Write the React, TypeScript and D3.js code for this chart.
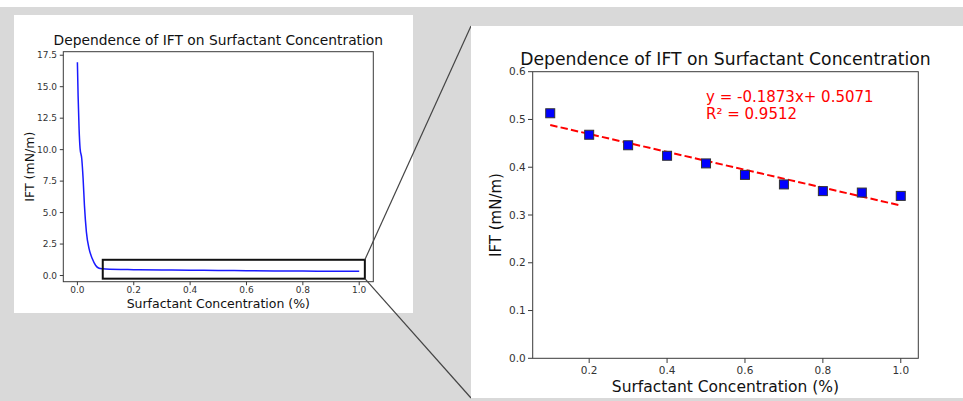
import React from "react";
import * as d3 from "d3";

// ---- Data ----
// Full curve (left panel): concentration (%) vs IFT (mN/m)
const curveX = [0, 0.0025, 0.006, 0.0096, 0.0155, 0.0203, 0.025, 0.032, 0.0416, 0.053, 0.065, 0.077, 0.089, 0.1, 0.2, 0.3, 0.4, 0.5, 0.6, 0.7, 0.8, 0.9, 1.0];
const curveY = [16.95, 14.3, 11.67, 10.08, 9.28, 7.69, 5.57, 3.45, 2.12, 1.33, 0.8, 0.58, 0.53, 0.513, 0.468, 0.446, 0.424, 0.408, 0.384, 0.364, 0.35, 0.347, 0.34];

// Zoomed detail (right panel)
const concentration = [0.1, 0.2, 0.3, 0.4, 0.5, 0.6, 0.7, 0.8, 0.9, 1.0];
const ift = [0.513, 0.468, 0.446, 0.424, 0.408, 0.384, 0.364, 0.35, 0.347, 0.34];
const fitSlope = -0.1873;
const fitIntercept = 0.5071;
const fitR2 = 0.9512;

const leftXTicks = [0, 0.2, 0.4, 0.6, 0.8, 1.0];
const leftYTicks = [0, 2.5, 5, 7.5, 10, 12.5, 15, 17.5];
const rightXTicks = [0.2, 0.4, 0.6, 0.8, 1.0];
const rightYTicks = [0, 0.1, 0.2, 0.3, 0.4, 0.5, 0.6];
const zoomBoxX = [0.09, 1.02];
const zoomBoxY = [-0.25, 1.25];

const title = "Dependence of IFT on Surfactant Concentration";
const xLabel = "Surfactant Concentration (%)";
const yLabel = "IFT (mN/m)";

const FONT = "'DejaVu Sans', sans-serif";
const BG = "#d9d9d9";
const SPINE = "#3a3a3a";

function withMargin(vals: number[]): [number, number] {
  const mn = d3.min(vals)!;
  const mx = d3.max(vals)!;
  const m = (mx - mn) * 0.05;
  return [mn - m, mx + m];
}

export default function App() {
  // Left chart
  const L = { x0: 63.3, x1: 373.3, y0: 51.7, y1: 281.7 };
  const xL = d3.scaleLinear().domain(withMargin(curveX)).range([L.x0, L.x1]);
  const yL = d3.scaleLinear().domain(withMargin(curveY)).range([L.y1, L.y0]);
  const linePath = d3
    .line<number>()
    .x((_, i) => xL(curveX[i]))
    .y((d) => yL(d))
    .curve(d3.curveMonotoneX)(curveY) as string;

  // Right chart
  const R = { x0: 532.7, x1: 918.3, y0: 71.7, y1: 358.3 };
  const xR = d3.scaleLinear().domain(withMargin(concentration)).range([R.x0, R.x1]);
  const yR = d3.scaleLinear().domain([0, 0.6]).range([R.y1, R.y0]);
  const fitX = [d3.min(concentration)!, d3.max(concentration)!];
  const fitPath = d3
    .line<number>()
    .x((d) => xR(d))
    .y((d) => yR(fitSlope * d + fitIntercept))(fitX) as string;

  const fmt1 = d3.format(".1f");
  const bx1 = xL(zoomBoxX[1]);
  const byTop = yL(zoomBoxY[1]);
  const byBot = yL(zoomBoxY[0]);

  const mk = 9;

  return (
    <svg
      width={963}
      height={401}
      style={{ position: "absolute", left: 0, top: 0, fontFamily: FONT }}
    >
      <rect x={0} y={0} width={963} height={401} fill={BG} />
      <rect x={0} y={0} width={963} height={7} fill="#ffffff" />

      {/* Left panel */}
      <rect x={14} y={15} width={399} height={298} fill="#ffffff" />
      <text x={(L.x0 + L.x1) / 2} y={45} textAnchor="middle" fontSize={13.8} fill="#111">
        {title}
      </text>
      <path d={linePath} fill="none" stroke="#1a1aff" strokeWidth={1.5} />
      <rect x={L.x0} y={L.y0} width={L.x1 - L.x0} height={L.y1 - L.y0} fill="none" stroke={SPINE} strokeWidth={1} />
      {leftXTicks.map((t) => (
        <g key={"lx" + t}>
          <line x1={xL(t)} x2={xL(t)} y1={L.y1} y2={L.y1 + 3.5} stroke={SPINE} />
          <text x={xL(t)} y={292.7} textAnchor="middle" fontSize={9} fill="#333">
            {fmt1(t)}
          </text>
        </g>
      ))}
      {leftYTicks.map((t) => (
        <g key={"ly" + t}>
          <line x1={L.x0 - 3.5} x2={L.x0} y1={yL(t)} y2={yL(t)} stroke={SPINE} />
          <text x={57} y={yL(t)} dy="0.35em" textAnchor="end" fontSize={9} fill="#333">
            {fmt1(t)}
          </text>
        </g>
      ))}
      <text x={(L.x0 + L.x1) / 2} y={308} textAnchor="middle" fontSize={12.5} fill="#111">
        {xLabel}
      </text>
      <text
        transform={`translate(34,${(L.y0 + L.y1) / 2}) rotate(-90)`}
        textAnchor="middle"
        fontSize={12.5}
        fill="#111"
      >
        {yLabel}
      </text>
      <rect
        x={xL(zoomBoxX[0])}
        y={byTop}
        width={bx1 - xL(zoomBoxX[0])}
        height={byBot - byTop}
        fill="none"
        stroke="#111"
        strokeWidth={2}
      />

      {/* Connector lines */}
      <line x1={bx1} y1={byTop} x2={471} y2={26} stroke="#444" strokeWidth={1.2} />
      <line x1={bx1} y1={byBot} x2={471} y2={398} stroke="#444" strokeWidth={1.2} />

      {/* Right panel */}
      <rect x={471} y={26} width={492} height={372} fill="#ffffff" />
      <text x={(R.x0 + R.x1) / 2} y={65} textAnchor="middle" fontSize={17.2} fill="#111">
        {title}
      </text>
      <path d={fitPath} fill="none" stroke="#ff0000" strokeWidth={2} strokeDasharray="7.4,3.2" />
      {concentration.map((c, i) => (
        <rect
          key={"pt" + i}
          x={xR(c) - mk / 2}
          y={yR(ift[i]) - mk / 2}
          width={mk}
          height={mk}
          fill="#0000ff"
          stroke="#333"
          strokeWidth={1}
        />
      ))}
      <rect x={R.x0} y={R.y0} width={R.x1 - R.x0} height={R.y1 - R.y0} fill="none" stroke={SPINE} strokeWidth={1} />
      {rightXTicks.map((t) => (
        <g key={"rx" + t}>
          <line x1={xR(t)} x2={xR(t)} y1={R.y1} y2={R.y1 + 4.7} stroke={SPINE} />
          <text x={xR(t)} y={374} textAnchor="middle" fontSize={10.5} fill="#333">
            {fmt1(t)}
          </text>
        </g>
      ))}
      {rightYTicks.map((t) => (
        <g key={"ry" + t}>
          <line x1={R.x0 - 4.7} x2={R.x0} y1={yR(t)} y2={yR(t)} stroke={SPINE} />
          <text x={525.7} y={yR(t)} dy="0.35em" textAnchor="end" fontSize={10.5} fill="#333">
            {fmt1(t)}
          </text>
        </g>
      ))}
      <text x={(R.x0 + R.x1) / 2} y={391.7} textAnchor="middle" fontSize={15.5} fill="#111">
        {xLabel}
      </text>
      <text
        transform={`translate(501,${(R.y0 + R.y1) / 2}) rotate(-90)`}
        textAnchor="middle"
        fontSize={15}
        fill="#111"
      >
        {yLabel}
      </text>
      <text x={xR(0.5)} y={yR(0.537)} fontSize={15} fill="#ff0000">
        <tspan>{`y = ${fitSlope}x+ ${fitIntercept}`}</tspan>
        <tspan x={xR(0.5)} dy={17.3}>{`R² = ${fitR2}`}</tspan>
      </text>
    </svg>
  );
}
